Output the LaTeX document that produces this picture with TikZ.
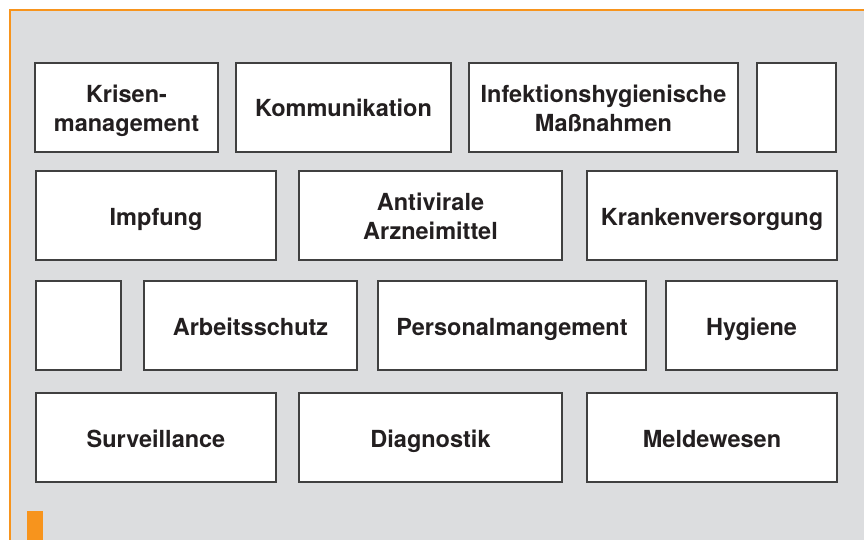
\documentclass[tikz,border=0pt]{standalone}
\usepackage{fontspec}
\setmainfont{TeX Gyre Heros}
\usetikzlibrary{positioning}
\definecolor{bggray}{HTML}{DCDDDF}
\definecolor{frameorange}{HTML}{F7941D}
\definecolor{textdark}{HTML}{231F20}

\begin{document}
\begin{tikzpicture}[
  x=1pt,y=-1pt,
  node distance=18pt,
  task/.style={draw=black!75,line width=1.2pt,fill=white,minimum height=89pt,
    inner sep=2pt,outer sep=0pt,align=center,text=textdark,
    font=\fontsize{23.5}{28.3}\selectfont\bfseries,
    text height=26pt,text depth=7pt},
  twoline/.style={task,text height=54.3pt}
]
\useasboundingbox (0,0) rectangle (864,540);
% frame
\fill[bggray] (10,10) rectangle (864,540);
\draw[frameorange,line width=2pt] (864,10) -- (10,10) -- (10,540);
\fill[frameorange] (27,511) rectangle (43,540);
% row 1
\node[twoline,minimum width=183pt,anchor=north west] (krisen) at (35,63) {Krisen-\\management};
\node[task,minimum width=215pt,right=18pt of krisen] (komm) {Kommunikation};
\node[twoline,minimum width=269pt,right=18pt of komm] (infekt) {Infektionshygienische\\Maßnahmen};
\node[task,minimum width=79pt,right=19pt of infekt] (leer1) {};
% row 2
\node[task,minimum width=240pt,anchor=north west] (impf) at (36,171) {Impfung};
\node[twoline,minimum width=263pt,right=23pt of impf] (antiviral) {Antivirale\\Arzneimittel};
\node[task,minimum width=250pt,right=25pt of antiviral] (kranken) {Krankenversorgung};
% row 3
\node[task,minimum width=85pt,anchor=north west] (leer2) at (36,281) {};
\node[task,minimum width=213pt,right=23pt of leer2] (arbeit) {Arbeitsschutz};
\node[task,minimum width=268pt,right=21pt of arbeit] (personal) {Personalmangement};
\node[task,minimum width=171pt,right=20pt of personal] (hygiene) {Hygiene};
% row 4
\node[task,minimum width=240pt,anchor=north west] (surv) at (36,393) {Surveillance};
\node[task,minimum width=263pt,right=23pt of surv] (diag) {Diagnostik};
\node[task,minimum width=250pt,right=25pt of diag] (melde) {Meldewesen};
\end{tikzpicture}
\end{document}
